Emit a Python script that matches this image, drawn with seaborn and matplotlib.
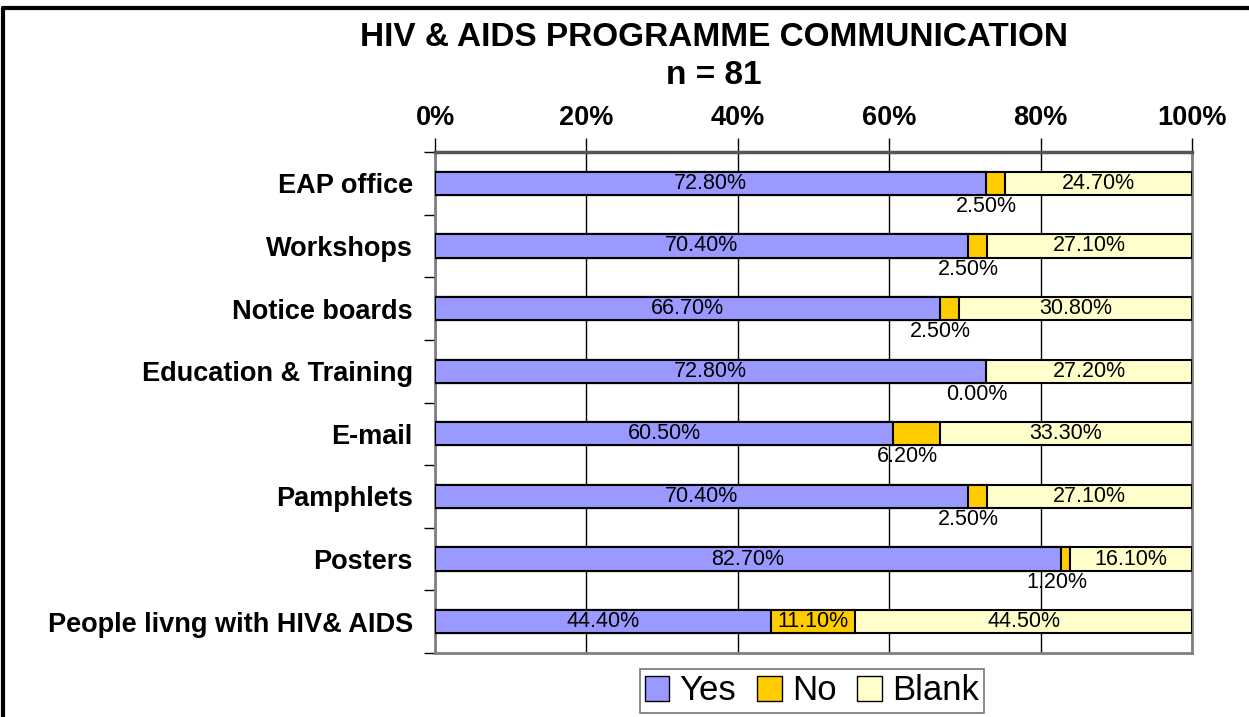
import pandas as pd
import matplotlib.pyplot as plt
import seaborn as sns
from matplotlib.ticker import FixedLocator, PercentFormatter
from matplotlib.patches import Patch
from matplotlib.lines import Line2D

# ----------------------------
# data
# ----------------------------
categories = ["EAP office", "Workshops", "Notice boards", "Education & Training",
              "E-mail", "Pamphlets", "Posters", "People livng with HIV& AIDS"]
yes = [72.8, 70.4, 66.7, 72.8, 60.5, 70.4, 82.7, 44.4]
no = [2.5, 2.5, 2.5, 0.0, 6.2, 2.5, 1.2, 11.1]
blank = [24.7, 27.1, 30.8, 27.2, 33.3, 27.1, 16.1, 44.5]

df = pd.DataFrame({"category": categories, "Yes": yes, "No": no, "Blank": blank})
df["yes_no"] = df["Yes"] + df["No"]
df["total"] = df["yes_no"] + df["Blank"]

colors = {"Yes": "#9999FF", "No": "#FFCC00", "Blank": "#FFFFCC"}

sns.set_style("white")
plt.rcParams["font.family"] = ["Liberation Sans", "DejaVu Sans"]
plt.rcParams["text.color"] = "black"
plt.rcParams["xtick.color"] = "black"
plt.rcParams["ytick.color"] = "black"

fig = plt.figure(figsize=(12.49, 7.17), dpi=100)
ax = fig.add_axes([435 / 1249, 1 - 653 / 717, 757 / 1249, 501 / 717])

# stacked bars: draw cumulative totals back to front
bw = 0.37
for col, key in [("total", "Blank"), ("yes_no", "No"), ("Yes", "Yes")]:
    sns.barplot(data=df, y="category", x=col, color=colors[key], orient="h",
                width=bw, saturation=1, edgecolor="black", linewidth=1.5,
                ax=ax, zorder=3)

# value labels
lab_fs = 15.5
for i, row in df.iterrows():
    ax.text(row["Yes"] / 2, i, f"{row['Yes']:.2f}%", ha="center", va="center",
            fontsize=lab_fs, zorder=5)
    ax.text(row["yes_no"] + row["Blank"] / 2, i, f"{row['Blank']:.2f}%",
            ha="center", va="center", fontsize=lab_fs, zorder=5)
    if row["No"] > 8:
        ax.text(row["Yes"] + row["No"] / 2, i, f"{row['No']:.2f}%",
                ha="center", va="center", fontsize=lab_fs, zorder=5)
    else:
        ax.text(row["Yes"] + row["No"] / 2 - 1.2, i + 0.37, f"{row['No']:.2f}%",
                ha="center", va="center", fontsize=lab_fs, zorder=5)

# axes styling
ax.set_xlim(0, 100)
ax.set_ylim(len(categories) - 0.5, -0.5)
ax.xaxis.set_major_locator(FixedLocator([0, 20, 40, 60, 80, 100]))
ax.xaxis.set_major_formatter(PercentFormatter(decimals=0))
ax.xaxis.tick_top()
ax.tick_params(axis="x", top=True, bottom=False, length=10, width=1,
               labelsize=19.5, pad=5)
for lab in ax.get_xticklabels():
    lab.set_fontweight("bold")
ax.set_xlabel("")
ax.set_ylabel("")
ax.grid(axis="x", color="black", linewidth=1, zorder=0)

ax.yaxis.set_minor_locator(FixedLocator([k - 0.5 for k in range(len(categories) + 1)]))
ax.tick_params(axis="y", which="major", length=0, labelsize=19.5, pad=16)
ax.tick_params(axis="y", which="minor", left=True, length=8, width=1)
for lab in ax.get_yticklabels():
    lab.set_fontweight("bold")

for side in ["left", "right", "bottom"]:
    ax.spines[side].set_color("#808080")
    ax.spines[side].set_linewidth(2)
ax.spines["top"].set_color("#555555")
ax.spines["top"].set_linewidth(2.5)

fig.text(714 / 1249, 1 - 22 / 717, "HIV & AIDS PROGRAMME COMMUNICATION\nn = 81",
         ha="center", va="top", fontsize=24, fontweight="bold", linespacing=1.3)

handles = [Patch(facecolor=colors[k], edgecolor="black", label=k) for k in ["Yes", "No", "Blank"]]
leg = fig.legend(handles=handles, loc="center", bbox_to_anchor=(812 / 1249, 1 - 691 / 717),
                 ncol=3, fontsize=25, frameon=True, fancybox=False, handlelength=0.7,
                 handleheight=0.7, handletextpad=0.3, columnspacing=0.6,
                 borderpad=0.15, borderaxespad=0)
leg.get_frame().set_edgecolor("#555555")
leg.get_frame().set_linewidth(1.2)

# outer frame of the picture
fig.add_artist(Line2D([3 / 1249, 1], [1 - 8 / 717] * 2, transform=fig.transFigure,
                      color="black", linewidth=3))
fig.add_artist(Line2D([3 / 1249] * 2, [0, 1 - 8 / 717], transform=fig.transFigure,
                      color="black", linewidth=3))

fig.savefig("out.png", dpi=100)
